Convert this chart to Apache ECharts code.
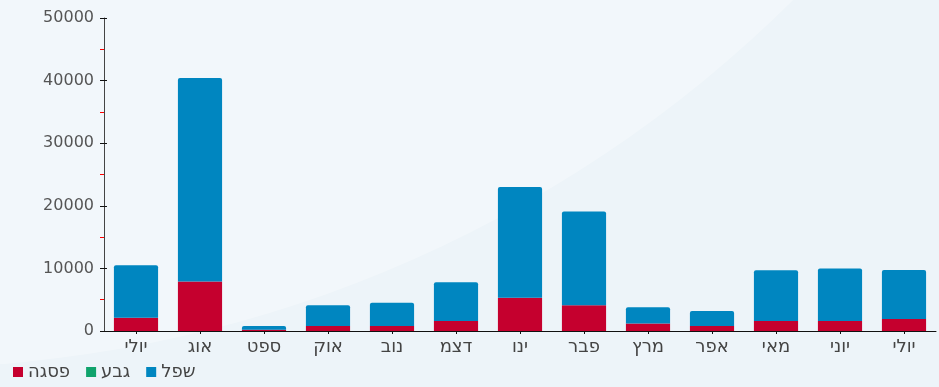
<!DOCTYPE html>
<html>
<head>
<meta charset="utf-8">
<script src="https://cdn.jsdelivr.net/npm/echarts@6/dist/echarts.min.js"></script>
<style>html,body{margin:0;padding:0;background:#edf4f9;}#c{width:939px;height:387px;}</style>
</head>
<body>
<div id="c"></div>
<script>
const categories = ['יולי','אוג','ספט','אוק','נוב','דצמ','ינו','פבר','מרץ','אפר','מאי','יוני','יולי'];
const peak = [2100, 7900, 200, 800, 800, 1600, 5300, 4100, 1200, 800, 1600, 1600, 1900];
const ridge = [0, 0, 0, 0, 0, 0, 0, 0, 0, 0, 0, 0, 0];
const low = [8400, 32500, 600, 3300, 3700, 6200, 17700, 15000, 2600, 2400, 8100, 8400, 7850];
const seriesNames = ['פסגה', 'גבע', 'שפל'];
const yTicks = [0, 10000, 20000, 30000, 40000, 50000];

const chart = echarts.init(document.getElementById('c'));
const font = 'DejaVu Sans';
chart.setOption({
  backgroundColor: '#edf4f9',
  animation: false,
  graphic: [{
    type: 'circle', silent: true, z: -10,
    shape: {cx: -100, cy: -900, r: 1268},
    style: {fill: 'rgba(255,255,255,0.3)'}
  }],
  grid: {left: 104, right: 3, top: 18, bottom: 56, containLabel: false},
  legend: {
    left: 8, bottom: 1, itemWidth: 10, itemHeight: 10, itemGap: 16,
    icon: 'rect',
    data: seriesNames,
    textStyle: {fontFamily: font, fontSize: 18, color: '#444'}
  },
  xAxis: {
    type: 'category', data: categories,
    axisLine: {lineStyle: {color: '#111', width: 1}},
    axisTick: {show: true, alignWithLabel: true, length: 3, lineStyle: {color: '#111'}},
    axisLabel: {fontFamily: font, fontSize: 18, color: '#444', margin: 7}
  },
  yAxis: [{
    type: 'value', min: 0, max: 50000, interval: 10000,
    axisLine: {show: true, lineStyle: {color: '#444', width: 1}},
    axisTick: {show: true, length: 4, lineStyle: {color: '#111'}},
    minorTick: {show: true, splitNumber: 2, length: 4, lineStyle: {color: '#ff0000', width: 1}},
    splitLine: {show: false},
    axisLabel: {fontFamily: font, fontSize: 16, color: '#555', margin: 10,
      formatter: v => yTicks.includes(v) ? String(v) : ''}
  }, {
    type: 'value', min: 0, max: 50000, interval: 10000, position: 'left',
    axisLine: {show: false},
    axisTick: {show: true, inside: true, length: 3, lineStyle: {color: '#111'}},
    axisLabel: {show: false}, splitLine: {show: false}
  }],
  series: [
    {name: seriesNames[0], type: 'bar', stack: 's', data: peak, barWidth: '69%',
     itemStyle: {color: '#c5002e'}},
    {name: seriesNames[1], type: 'bar', stack: 's', data: ridge,
     itemStyle: {color: '#10a36c'}},
    {name: seriesNames[2], type: 'bar', stack: 's', data: low,
     itemStyle: {color: '#0086c0', borderRadius: [2,2,0,0]}}
  ]
});
</script>
</body>
</html>
